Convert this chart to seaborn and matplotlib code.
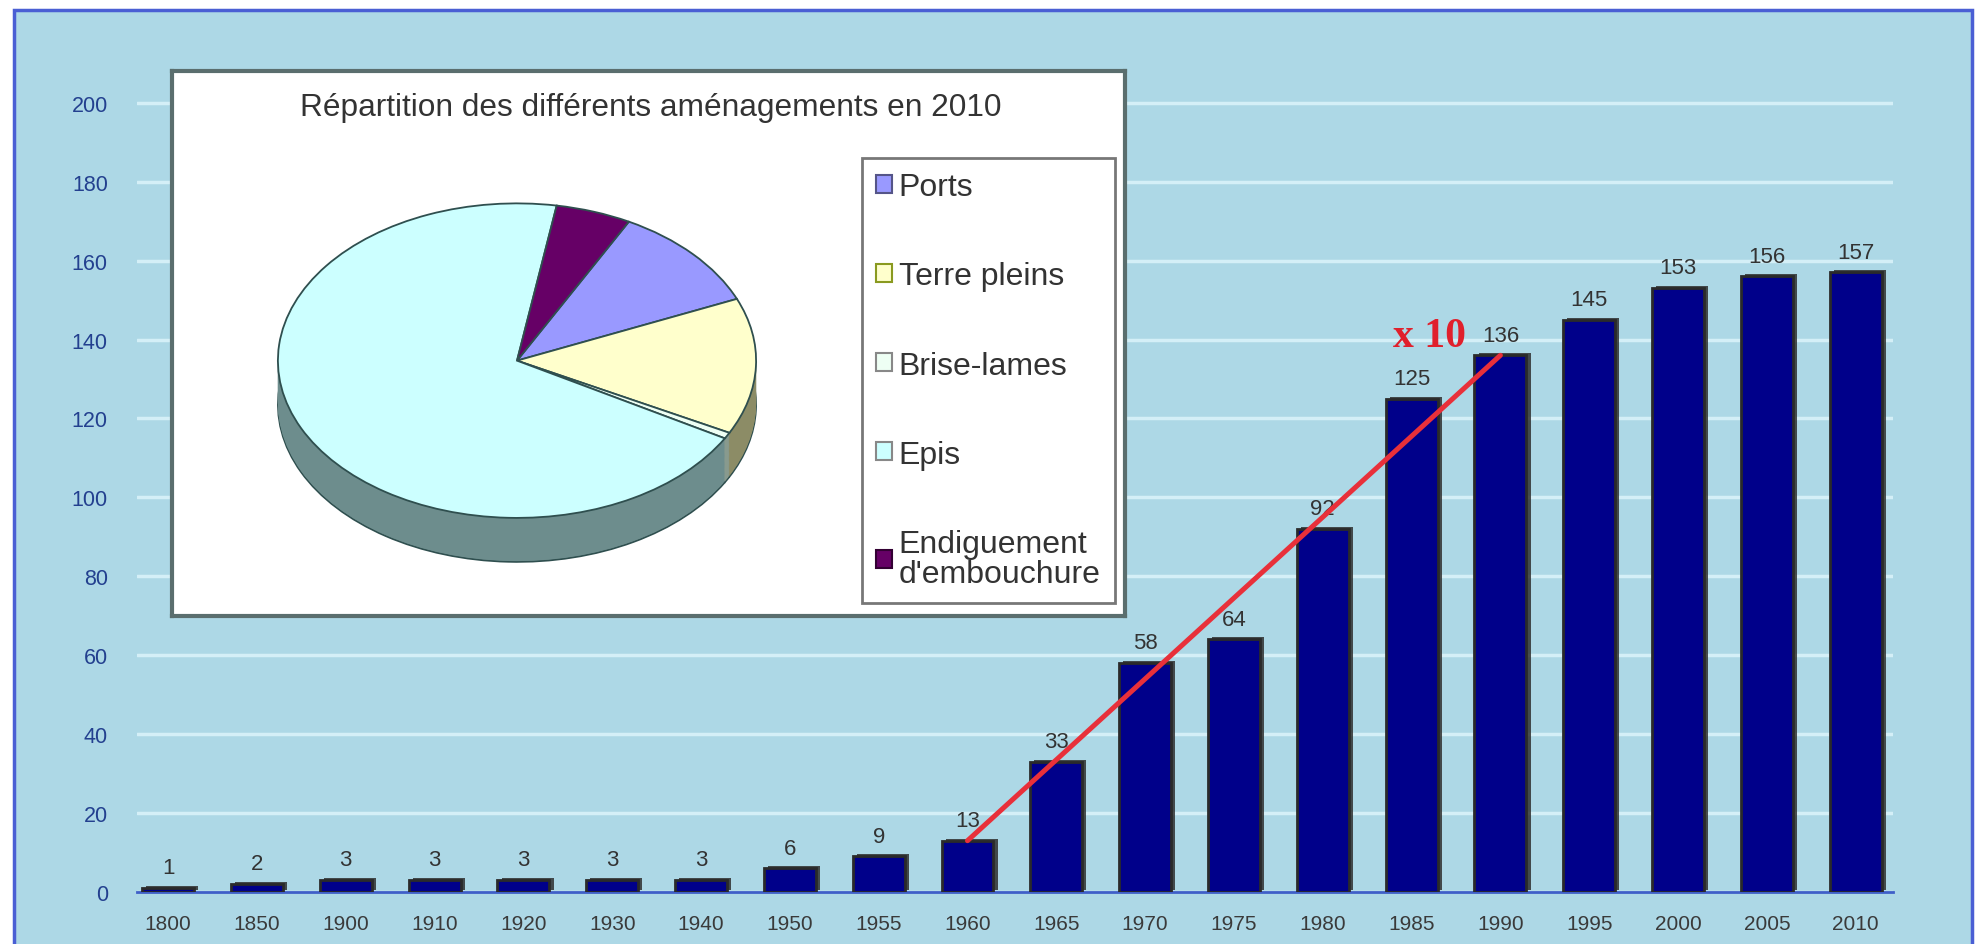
import matplotlib
matplotlib.use("Agg")
import matplotlib.pyplot as plt
import matplotlib.patheffects as pe
from matplotlib.patches import Rectangle, Patch
from matplotlib.ticker import FixedLocator
import numpy as np
import pandas as pd
import seaborn as sns

# Cumulative number of coastal structures per year
years = ["1800", "1850", "1900", "1910", "1920", "1930", "1940", "1950", "1955",
         "1960", "1965", "1970", "1975", "1980", "1985", "1990", "1995", "2000",
         "2005", "2010"]
counts = [1, 2, 3, 3, 3, 3, 3, 6, 9, 13, 33, 58, 64, 92, 125, 136, 145, 153,
          156, 157]
y_ticks = [0, 20, 40, 60, 80, 100, 120, 140, 160, 180, 200]

# Breakdown of structure types in 2010
types = ["Ports", "Terre pleins", "Brise-lames", "Epis",
         "Endiguement\nd'embouchure"]
type_counts = [17, 22, 1, 109, 8]
type_colors = ["#9999ff", "#ffffcc", "#eefff4", "#ccffff", "#660066"]
type_side_colors = ["#5f5f9c", "#8c8c66", "#889a8e", "#6d8d8d", "#3a003a"]
type_marker_edges = ["#555588", "#8a9a20", "#888888", "#888888", "#330033"]

pie_title = "Répartition des différents aménagements en 2010"
trend_from, trend_to = "1960", "1990"
growth_note = "x 10"

sns.set_style("white")
plt.rcParams["font.family"] = ["Liberation Sans", "DejaVu Sans"]

W, H = 1975, 945
fig = plt.figure(figsize=(W / 100, H / 100), dpi=100)
fig.patch.set_facecolor("white")


def fx(px):
    return px / W


def fy(py):
    return 1 - py / H


# light blue chart area with its blue frame (kept behind every axes)
fig.patches.append(Rectangle((fx(14), -0.02), fx(1972 - 14), fy(11) + 0.02,
                             transform=fig.transFigure, facecolor="#add8e6",
                             edgecolor="#4a5fd4", linewidth=2.5, zorder=-5))

# ---- main bar chart ----
ax = fig.add_axes([fx(137), fy(893), fx(1893 - 137), (893 - 84) / H], zorder=1)
ax.set_facecolor("none")
df = pd.DataFrame({"year": years, "count": counts})
sns.barplot(data=df, x="year", y="count", ax=ax, color="#00008a",
            saturation=1, width=0.585, edgecolor="#2a2a2a", linewidth=2,
            zorder=3)
for bar in ax.patches:
    bar.set_path_effects([pe.SimplePatchShadow(offset=(3, 1.5),
                                               shadow_rgbFace="#303030",
                                               alpha=0.85), pe.Normal()])
ax.bar_label(ax.containers[0], labels=[str(v) for v in counts], padding=7,
             fontsize=16, color="#333333")

ax.set_xlim(-0.35, 19.42)
ax.set_ylim(0, 205)
ax.set_yticks(y_ticks)
ax.yaxis.grid(True, color="#d4eff7", linewidth=2.5)
ax.xaxis.grid(False)
ax.set_axisbelow(True)
for side in ["left", "right", "top"]:
    ax.spines[side].set_visible(False)
ax.spines["bottom"].set_color("#3f5fc8")
ax.spines["bottom"].set_linewidth(2)
ax.tick_params(axis="y", length=0, pad=21, labelsize=15.5, labelcolor="#23408f")
ax.tick_params(axis="x", which="major", length=0, pad=16, labelsize=15,
               labelcolor="#3a3a3a")
ax.xaxis.set_minor_locator(FixedLocator(np.arange(len(years)) + 0.45))
ax.tick_params(axis="x", which="minor", length=6, width=1.5, direction="in",
               color="#3f5fc8")
ax.set_xlabel("")
ax.set_ylabel("")

# growth between 1960 and 1990
i0, i1 = years.index(trend_from), years.index(trend_to)
ax.plot([i0, i1], [counts[i0], counts[i1]], color="#e8303a", linewidth=3.6,
        solid_capstyle="round", zorder=5)
ax.text(i1 - 0.8, counts[i1] + 5, growth_note, family="Liberation Serif",
        fontweight="bold", fontsize=30, color="#e0202c", ha="center",
        va="center", zorder=6)

# ---- inset panel with the 2010 breakdown ----
panel = fig.add_axes([fx(172), fy(617), fx(1125 - 172), (617 - 72) / H],
                     zorder=10)
panel.set_facecolor("white")
panel.set_xticks([])
panel.set_yticks([])
for s in panel.spines.values():
    s.set_color("#5a6e6e")
    s.set_linewidth(3)
panel.text(0.502, 0.934, pie_title, ha="center", va="center", fontsize=22.8,
           color="#333333", transform=panel.transAxes)

handles = [Patch(facecolor=c, edgecolor=e, linewidth=1.5)
           for c, e in zip(type_colors, type_marker_edges)]
leg = panel.legend(handles, types, loc="upper left",
                   bbox_to_anchor=((862 - 172) / 953, (617 - 159) / 545),
                   frameon=True, fontsize=23, labelspacing=1.85,
                   handlelength=0.5, handleheight=0.5, handletextpad=0.2,
                   borderpad=0.45, borderaxespad=0, fancybox=False)
leg.get_frame().set_edgecolor("#555555")
leg.get_frame().set_linewidth(2)
for t in leg.get_texts():
    t.set_color("#333333")
    t.set_linespacing(1.0)

# 3D-looking pie: stacked darker copies for the side, light top face
pax = fig.add_axes([fx(517 - 263), fy(362 + 1.38 * 157), fx(526), 390 / H],
                   zorder=11)
pax.set_facecolor("none")
depth = 0.28
for k, d in enumerate(np.linspace(depth, 0.0, 40)):
    pax.pie(type_counts, colors=type_side_colors, startangle=62.1,
            counterclock=False, center=(0, -d),
            wedgeprops=dict(linewidth=1.2 if k == 0 else 0,
                            edgecolor="#2f4f4f"))
pax.pie(type_counts, colors=type_colors, startangle=62.1, counterclock=False,
        wedgeprops=dict(linewidth=1.3, edgecolor="#2f4f4f"))
pax.set_aspect("auto")
pax.set_xlim(-1.1, 1.1)
pax.set_ylim(-1.38, 1.1)
pax.axis("off")

fig.savefig("out.png", dpi=100, facecolor="white")
